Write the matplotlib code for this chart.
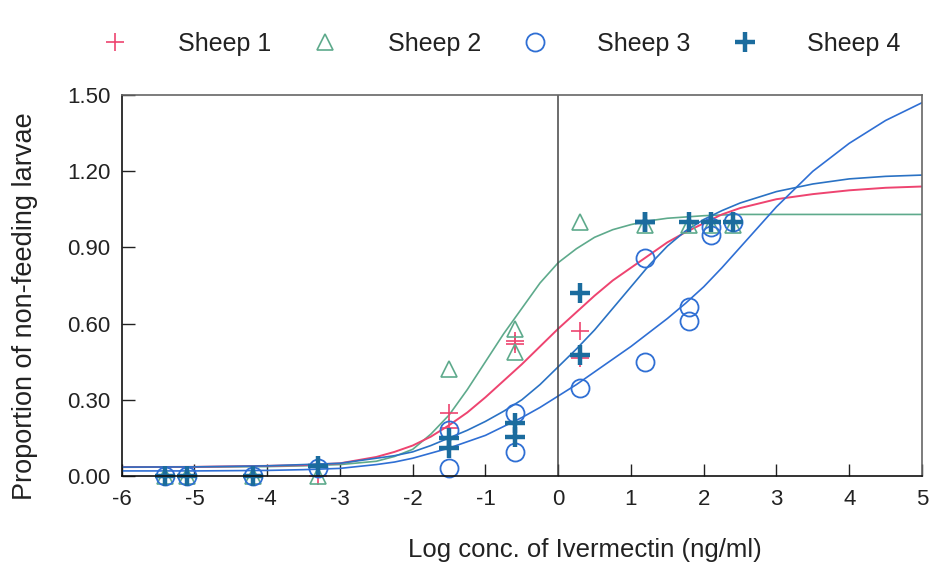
import numpy as np
import matplotlib
matplotlib.use("Agg")
import matplotlib.pyplot as plt

plt.rcParams['font.family'] = ['Liberation Sans', 'DejaVu Sans']
plt.rcParams['axes.unicode_minus'] = False

# measured points (log conc, proportion)
s1_x = [-5.4, -5.1, -4.2, -3.3, -1.5, -1.5, -0.6, -0.6, 0.3, 0.3, 1.2, 1.8, 2.1, 2.4]
s1_y = [0, 0, 0, 0, 0.25, 0.19, 0.53, 0.52, 0.57, 0.465, 1.0, 1.0, 1.0, 1.0]

s2_x = [-5.4, -5.1, -4.2, -3.3, -1.5, -0.6, -0.6, 0.3, 1.2, 1.8, 2.1, 2.4]
s2_y = [0, 0, 0, 0, 0.42, 0.58, 0.49, 1.0, 0.99, 0.99, 0.99, 0.99]

s3_x = [-5.4, -5.1, -4.2, -3.3, -1.5, -1.5, -0.6, -0.6, 0.3, 1.2, 1.2, 1.8, 1.8, 2.1, 2.1, 2.4]
s3_y = [0, 0, 0, 0.03, 0.03, 0.18, 0.25, 0.095, 0.345, 0.86, 0.45, 0.665, 0.61, 0.98, 0.95, 1.0]

s4_x = [-5.4, -5.1, -4.2, -3.3, -1.5, -1.5, -0.6, -0.6, 0.3, 0.3, 1.2, 1.2, 1.8, 2.1, 2.4]
s4_y = [0, 0, 0, 0.04, 0.15, 0.11, 0.21, 0.155, 0.72, 0.475, 1.0, 1.0, 1.0, 1.0, 1.0]

# fitted curves
fit_x = [-6, -5, -4, -3.5, -3, -2.5, -2.25, -2, -1.75, -1.5, -1.25, -1, -0.75, -0.5, -0.25, 0,
         0.25, 0.5, 0.75, 1, 1.25, 1.5, 1.75, 2, 2.25, 2.5, 3, 3.5, 4, 4.5, 5]
fit_s1 = [0.035, 0.036, 0.04, 0.043, 0.05, 0.075, 0.095, 0.12, 0.155, 0.20, 0.25, 0.31, 0.375, 0.44,
          0.51, 0.58, 0.645, 0.71, 0.77, 0.82, 0.87, 0.92, 0.96, 0.995, 1.03, 1.055, 1.09, 1.11,
          1.125, 1.135, 1.14]
fit_s2 = [0.035, 0.035, 0.037, 0.04, 0.045, 0.058, 0.077, 0.105, 0.165, 0.24, 0.34, 0.45, 0.56, 0.66,
          0.76, 0.84, 0.895, 0.94, 0.97, 0.99, 1.005, 1.015, 1.02, 1.025, 1.028, 1.03, 1.03, 1.03,
          1.03, 1.03, 1.03]
fit_s3 = [0.02, 0.02, 0.022, 0.025, 0.03, 0.045, 0.055, 0.07, 0.09, 0.11, 0.135, 0.16, 0.195, 0.23,
          0.27, 0.315, 0.36, 0.41, 0.46, 0.51, 0.565, 0.62, 0.68, 0.745, 0.82, 0.90, 1.06, 1.20,
          1.31, 1.40, 1.47]
fit_s4 = [0.035, 0.036, 0.04, 0.045, 0.05, 0.07, 0.08, 0.095, 0.12, 0.15, 0.18, 0.215, 0.255, 0.30,
          0.36, 0.43, 0.50, 0.575, 0.66, 0.745, 0.83, 0.905, 0.965, 1.01, 1.045, 1.075, 1.12, 1.15,
          1.17, 1.18, 1.185]

labels = ['Sheep 1', 'Sheep 2', 'Sheep 3', 'Sheep 4']
xticks = [-6, -5, -4, -3, -2, -1, 0, 1, 2, 3, 4, 5]
yticks = [0, 0.3, 0.6, 0.9, 1.2, 1.5]

red = '#ee4470'
green = '#5eaa8c'
blue = '#2f6fd4'
dark = '#1b6c9e'
txt = '#222222'

fig = plt.figure(figsize=(9.36, 5.66), dpi=100)
ax = fig.add_axes([0.130, 0.159, 0.855, 0.673])

# curves
ax.plot(fit_x, fit_s2, color=green, lw=1.2)
ax.plot(fit_x, fit_s1, color=red, lw=1.4)
ax.plot(fit_x, fit_s3, color=blue, lw=1.2)
ax.plot(fit_x, fit_s4, color='#2a72c4', lw=1.2)

ax.axvline(0, color='#444444', lw=1.1)

# points
h1, = ax.plot(s1_x, s1_y, ls='none', marker='+', ms=13, mew=1.2, color=red, clip_on=False)
h2, = ax.plot(s2_x, s2_y, ls='none', marker='^', ms=11, mew=1.2, mfc='none', mec=green, clip_on=False)
h3, = ax.plot(s3_x, s3_y, ls='none', marker='o', ms=13, mew=1.3, mfc='none', mec=blue, clip_on=False)
h4, = ax.plot(s4_x, s4_y, ls='none', marker='+', ms=14, mew=3.2, color=dark, clip_on=False)

ax.set_xlim(-6, 5)
ax.set_ylim(0, 1.5)
ax.set_xticks(xticks)
ax.set_xticklabels([str(t) for t in xticks])
ax.set_yticks(yticks)
ax.set_yticklabels(['%.2f' % t for t in yticks])
ax.tick_params(direction='in', length=9, width=1, labelsize=16, colors=txt)
ax.tick_params(axis='x', pad=9)
ax.tick_params(axis='y', pad=8)

for s in ['left', 'bottom']:
    ax.spines[s].set_color('#111111')
    ax.spines[s].set_linewidth(1.2)
for s in ['top', 'right']:
    ax.spines[s].set_color('#666666')
    ax.spines[s].set_linewidth(1.2)

ax.set_xlabel('Log conc. of Ivermectin (ng/ml)', fontsize=18.5, color=txt)
ax.xaxis.set_label_coords(0.579, -0.163)
ax.set_ylabel('Proportion of non-feeding larvae', fontsize=19.5, color=txt)
ax.yaxis.set_label_coords(-0.104, 0.446)

fig.legend([h1, h2, h3, h4], labels, loc='center', bbox_to_anchor=(0.536, 0.922), ncol=4,
           frameon=False, fontsize=18, handlelength=1, handletextpad=2.0, columnspacing=1.66,
           labelcolor=txt)

fig.savefig('out.png', dpi=100)
